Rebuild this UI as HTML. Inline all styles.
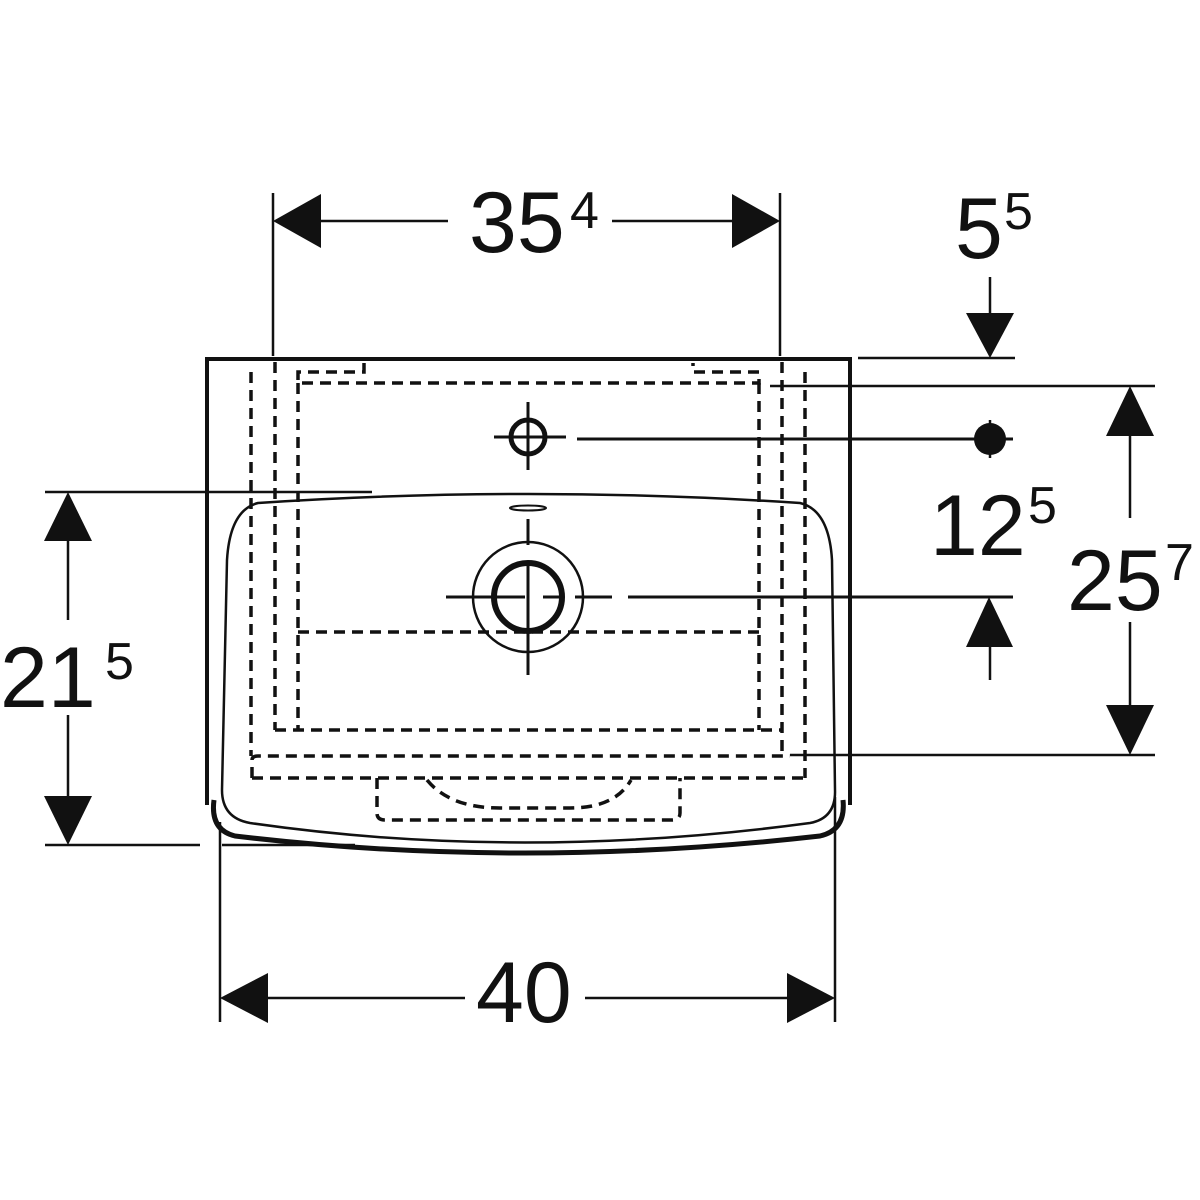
<!DOCTYPE html>
<html><head><meta charset="utf-8"><style>
html,body{margin:0;padding:0;background:#fff;width:1200px;height:1200px;overflow:hidden}
svg{display:block}
text{font-family:"Liberation Sans",sans-serif;fill:#111}
</style></head><body>
<svg width="1200" height="1200" viewBox="0 0 1200 1200" xmlns="http://www.w3.org/2000/svg">
<g stroke="#111" fill="none">
<!-- outer body -->
<path d="M207,805 L207,359 L850,359 L850,805" stroke-width="4"/>
<path d="M214,800 Q210,830 235,836 Q520,870 820,836 Q846,830 843,800" stroke-width="5"/>
<!-- basin -->
<path d="M258,503 Q230,510 227,560 L222,790 Q222,818 250,823 Q520,862 810,823 Q836,818 835,790 L832,560 Q829,510 800,503 Q528,485 258,503 Z" stroke-width="2.5"/>
<!-- overflow -->
<ellipse cx="528" cy="508" rx="18" ry="2.5" stroke-width="2"/>
<!-- dashed hidden lines -->
<g stroke-width="3.5" stroke-dasharray="11,7">
<line x1="251" y1="372" x2="251" y2="756"/>
<line x1="275" y1="362" x2="275" y2="730"/>
<line x1="298" y1="383" x2="298" y2="730"/>
<line x1="759" y1="383" x2="759" y2="730"/>
<line x1="782" y1="362" x2="782" y2="756"/>
<line x1="805" y1="372" x2="805" y2="778"/>
<path d="M364,363 L364,372 L298,372 L298,383 L759,383 L759,372 L693,372 L693,363"/>
<line x1="298" y1="632" x2="759" y2="632"/>
<line x1="275" y1="730" x2="782" y2="730"/>
<path d="M252,778 L252,760 Q252,756 258,756 L790,756"/>
<line x1="252" y1="778" x2="805" y2="778"/>
<path d="M377,778 L377,813 Q377,820 385,820 L672,820 Q680,820 680,813 L680,778"/>
<path d="M427,780 Q450,808 500,808 L570,808 Q615,808 631,780"/>
</g>
<!-- faucet hole -->
<circle cx="528" cy="437" r="17" stroke-width="5"/>
<line x1="494" y1="437" x2="566" y2="437" stroke-width="3"/>
<line x1="528" y1="402" x2="528" y2="470" stroke-width="3"/>
<line x1="577" y1="439" x2="1013" y2="439" stroke-width="3"/>
<!-- drain -->
<circle cx="528" cy="597" r="55" stroke-width="2.5"/>
<circle cx="528" cy="597" r="34" stroke-width="6"/>
<line x1="446" y1="597" x2="525" y2="597" stroke-width="3"/>
<line x1="543" y1="597" x2="563" y2="597" stroke-width="3"/>
<line x1="575" y1="597" x2="612" y2="597" stroke-width="3"/>
<line x1="628" y1="597" x2="1013" y2="597" stroke-width="3"/>
<line x1="528" y1="519" x2="528" y2="545" stroke-width="3"/>
<line x1="528" y1="565" x2="528" y2="675" stroke-width="3"/>
<!-- extension lines -->
<g stroke-width="2.5">
<line x1="273" y1="193" x2="273" y2="356"/>
<line x1="780" y1="193" x2="780" y2="356"/>
<line x1="858" y1="358" x2="1015" y2="358"/>
<line x1="770" y1="386" x2="1155" y2="386"/>
<line x1="790" y1="755" x2="1155" y2="755"/>
<line x1="45" y1="492" x2="372" y2="492"/>
<line x1="45" y1="845" x2="200" y2="845"/>
<line x1="222" y1="845" x2="355" y2="845"/>
<line x1="220" y1="822" x2="220" y2="1022"/>
<line x1="835" y1="797" x2="835" y2="1022"/>
<!-- dim lines -->
<line x1="320" y1="221" x2="448" y2="221"/>
<line x1="612" y1="221" x2="735" y2="221"/>
<line x1="990" y1="277" x2="990" y2="315"/>
<line x1="990" y1="640" x2="990" y2="680"/>
<line x1="1130" y1="430" x2="1130" y2="518"/>
<line x1="1130" y1="622" x2="1130" y2="710"/>
<line x1="68" y1="540" x2="68" y2="620"/>
<line x1="68" y1="715" x2="68" y2="800"/>
<line x1="268" y1="998" x2="465" y2="998"/>
<line x1="585" y1="998" x2="790" y2="998"/>
<line x1="990" y1="420" x2="990" y2="458"/>
</g>
</g>
<g fill="#111">
<circle cx="990" cy="439" r="16"/>
<polygon points="273,221 321,194 321,248"/>
<polygon points="780,221 732,194 732,248"/>
<polygon points="990,358 966,313 1014,313"/>
<polygon points="989,597 966,647 1013,647"/>
<polygon points="1130,386 1106,436 1154,436"/>
<polygon points="1130,755 1106,705 1154,705"/>
<polygon points="68,492 44,541 92,541"/>
<polygon points="68,845 44,796 92,796"/>
<polygon points="220,998 268,973 268,1023"/>
<polygon points="835,998 787,973 787,1023"/>
</g>
<g font-size="86">
<text x="469" y="252">35</text><text x="570" y="228" font-size="52">4</text>
<text x="955" y="258">5</text><text x="1004" y="229" font-size="52">5</text>
<text x="930" y="555">12</text><text x="1028" y="523" font-size="52">5</text>
<text x="1067" y="610">25</text><text x="1165" y="580" font-size="52">7</text>
<text x="0" y="707">21</text><text x="105" y="679" font-size="52">5</text>
<text x="476" y="1022">40</text>
</g>
</svg>
</body></html>
